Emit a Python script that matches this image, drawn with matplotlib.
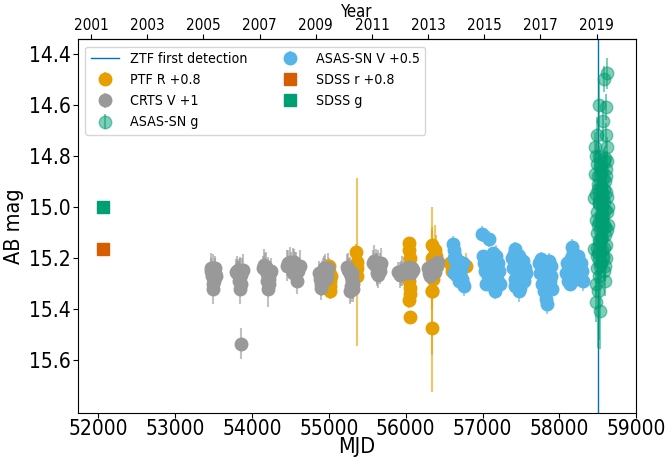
import numpy as np
import matplotlib.pyplot as plt

plt.rcParams['font.family'] = 'DejaVu Sans'
plt.rcParams['font.stretch'] = 'condensed'

# ZTF first detection
ztf_first_mjd = 58504

# SDSS photometry (single epoch)
sdss_mjd = [52065]
sdss_g = [14.999]
sdss_r = [15.165]  # r + 0.8

# CRTS V + 1
crts_mjd = [
    53462, 53470, 53478, 53485, 53490, 53496, 53502, 53508, 53515, 53522, 53530, 53488, 53500, 53512,
    53792, 53800, 53810, 53818, 53826, 53834, 53842, 53850, 53860, 53870, 53880, 53838, 53856, 53846, 53853,
    54150, 54160, 54170, 54180, 54190, 54198, 54206, 54214, 54222, 54232, 54244, 54200, 54212, 54226,
    54462, 54476, 54490, 54505, 54518, 54532, 54546, 54560, 54575, 54590, 54605, 54620, 54540, 54590,
    54872, 54884, 54896, 54908, 54920, 54932, 54944, 54956, 54968, 54980, 54994, 54900, 54930, 54960,
    55240, 55248, 55256, 55264, 55272, 55280, 55288, 55296, 55304, 55312, 55320, 55276, 55292, 55308,
    55580, 55590, 55600, 55610, 55620, 55630, 55640, 55650, 55660, 55670, 55680, 55625, 55645,
    55905, 55920, 55935, 55950, 55965, 55980, 55995, 56010, 56025, 56040, 56055, 56070, 56085, 56100,
    56292, 56304, 56316, 56328, 56340, 56352, 56364, 56376, 56388, 56400, 56412, 56420,
]
crts_mag = [
    15.25, 15.24, 15.26, 15.27, 15.245, 15.26, 15.25, 15.28, 15.26, 15.24, 15.27, 15.30, 15.32, 15.29,
    15.255, 15.25, 15.26, 15.245, 15.27, 15.26, 15.25, 15.255, 15.265, 15.25, 15.245, 15.29, 15.30, 15.32, 15.535,
    15.24, 15.225, 15.23, 15.25, 15.235, 15.26, 15.245, 15.27, 15.28, 15.26, 15.25, 15.29, 15.32, 15.30,
    15.23, 15.22, 15.215, 15.225, 15.23, 15.22, 15.215, 15.225, 15.235, 15.24, 15.25, 15.23, 15.26, 15.29,
    15.26, 15.28, 15.30, 15.27, 15.25, 15.24, 15.26, 15.245, 15.255, 15.27, 15.24, 15.315, 15.29, 15.28,
    15.235, 15.24, 15.245, 15.25, 15.26, 15.255, 15.27, 15.28, 15.29, 15.30, 15.32, 15.33, 15.31, 15.26,
    15.22, 15.21, 15.225, 15.23, 15.215, 15.24, 15.22, 15.235, 15.25, 15.23, 15.22, 15.26, 15.265,
    15.255, 15.265, 15.26, 15.25, 15.255, 15.245, 15.25, 15.26, 15.24, 15.235, 15.25, 15.26, 15.24, 15.245,
    15.24, 15.26, 15.27, 15.25, 15.235, 15.225, 15.245, 15.255, 15.24, 15.22, 15.23, 15.215,
]
crts_err = [
    0.05, 0.06, 0.04, 0.05, 0.06, 0.05, 0.04, 0.05, 0.06, 0.05, 0.04, 0.05, 0.06, 0.04,
    0.05, 0.06, 0.05, 0.04, 0.06, 0.05, 0.05, 0.06, 0.04, 0.05, 0.06, 0.05, 0.04, 0.06, 0.06,
    0.05, 0.06, 0.05, 0.04, 0.06, 0.05, 0.05, 0.04, 0.06, 0.05, 0.05, 0.06, 0.07, 0.05,
    0.06, 0.05, 0.06, 0.05, 0.04, 0.06, 0.05, 0.05, 0.06, 0.04, 0.05, 0.06, 0.05, 0.05,
    0.05, 0.04, 0.05, 0.06, 0.05, 0.05, 0.04, 0.06, 0.05, 0.05, 0.06, 0.05, 0.04, 0.05,
    0.05, 0.06, 0.04, 0.05, 0.05, 0.06, 0.05, 0.04, 0.05, 0.06, 0.05, 0.05, 0.06, 0.05,
    0.05, 0.06, 0.04, 0.05, 0.05, 0.06, 0.05, 0.04, 0.05, 0.05, 0.06, 0.05, 0.05,
    0.04, 0.05, 0.05, 0.06, 0.04, 0.05, 0.05, 0.04, 0.06, 0.05, 0.04, 0.05, 0.05, 0.04,
    0.05, 0.04, 0.05, 0.05, 0.06, 0.04, 0.05, 0.05, 0.04, 0.05, 0.05, 0.04,
]

# PTF R + 0.8
ptf_mjd = [
    55000, 55008, 55015, 55022, 55030, 55012,
    55358, 55362, 55368, 55372,
    56042, 56046, 56050, 56054, 56048, 56044, 56052, 56056, 56046, 56050,
    56340, 56344, 56348, 56352, 56346, 56342, 56356, 56380, 56400, 56345,
    56580, 56600, 56620, 56650, 56700, 56790,
]
ptf_mag = [
    15.23, 15.25, 15.29, 15.31, 15.27, 15.33,
    15.175, 15.215, 15.27, 15.24,
    15.14, 15.17, 15.20, 15.23, 15.26, 15.29, 15.315, 15.34, 15.365, 15.43,
    15.15, 15.20, 15.24, 15.28, 15.33, 15.475, 15.22, 15.17, 15.19, 15.33,
    15.22, 15.25, 15.21, 15.235, 15.22, 15.23,
]
ptf_err = [
    0.03, 0.04, 0.03, 0.04, 0.03, 0.03,
    0.03, 0.33, 0.04, 0.03,
    0.02, 0.02, 0.03, 0.03, 0.02, 0.03, 0.03, 0.02, 0.03, 0.02,
    0.06, 0.20, 0.05, 0.04, 0.03, 0.25, 0.06, 0.10, 0.08, 0.25,
    0.05, 0.04, 0.06, 0.05, 0.06, 0.05,
]

# ASAS-SN V + 0.5
asv_mjd = [
    56615, 56625, 56635, 56645, 56655, 56665, 56675, 56690, 56705, 56720, 56735, 56750, 56765, 56630, 56700, 56745,
    56990, 57080, 57005, 57020, 57035, 57050, 57065, 57080, 57095, 57110, 57125, 57140, 57155, 57170, 57185,
    57200, 57215, 57225, 57045, 57130, 57160,
    57380, 57392, 57404, 57416, 57428, 57440, 57452, 57464, 57476, 57488, 57500, 57512, 57524, 57536, 57548,
    57560, 57420, 57470,
    57740, 57752, 57764, 57776, 57788, 57800, 57812, 57824, 57836, 57848, 57860, 57872, 57884, 57896, 57908, 57850,
    58090, 58102, 58114, 58126, 58138, 58150, 58162, 58174, 58186, 58198, 58210, 58222, 58234, 58246, 58258,
    58270, 58282, 58294, 58306,
]
asv_mag = [
    15.145, 15.17, 15.20, 15.19, 15.22, 15.25, 15.21, 15.23, 15.26, 15.24, 15.28, 15.30, 15.31, 15.26, 15.29, 15.22,
    15.105, 15.125, 15.19, 15.22, 15.25, 15.20, 15.27, 15.23, 15.29, 15.21, 15.26, 15.31, 15.24, 15.19, 15.28,
    15.22, 15.25, 15.30, 15.30, 15.18, 15.33,
    15.20, 15.24, 15.185, 15.28, 15.165, 15.22, 15.30, 15.25, 15.19, 15.315, 15.23, 15.27, 15.21, 15.29, 15.24,
    15.26, 15.31, 15.33,
    15.22, 15.26, 15.205, 15.30, 15.24, 15.33, 15.28, 15.36, 15.38, 15.25, 15.21, 15.29, 15.23, 15.27, 15.32, 15.22,
    15.26, 15.22, 15.29, 15.24, 15.30, 15.20, 15.155, 15.18, 15.27, 15.23, 15.25, 15.21, 15.28, 15.19, 15.24,
    15.26, 15.22, 15.25, 15.29,
]
asv_err = [
    0.03, 0.02, 0.03, 0.04, 0.03, 0.02, 0.03, 0.03, 0.04, 0.02, 0.03, 0.03, 0.04, 0.02, 0.03, 0.03,
    0.03, 0.03, 0.02, 0.03, 0.04, 0.02, 0.03, 0.03, 0.04, 0.02, 0.03, 0.03, 0.02, 0.04, 0.03,
    0.02, 0.03, 0.04, 0.03, 0.02, 0.03,
    0.03, 0.02, 0.04, 0.03, 0.03, 0.02, 0.03, 0.04, 0.03, 0.02, 0.03, 0.03, 0.04, 0.02, 0.03,
    0.03, 0.02, 0.04,
    0.03, 0.02, 0.03, 0.04, 0.03, 0.02, 0.03, 0.03, 0.04, 0.02, 0.03, 0.03, 0.02, 0.04, 0.03, 0.03,
    0.03, 0.02, 0.03, 0.04, 0.03, 0.02, 0.03, 0.03, 0.04, 0.02, 0.03, 0.03, 0.02, 0.04, 0.03,
    0.03, 0.02, 0.03, 0.04,
]

# ASAS-SN g
asg_mjd = [
    58615, 58585, 58520, 58600, 58563, 58490, 58612, 58465, 58625, 58477, 58620, 58465, 58448, 58630, 58630, 58445,
    58590, 58500, 58525, 58480, 58470, 58510,
    58482, 58488, 58494, 58500, 58506, 58512, 58518, 58524, 58530, 58536, 58542, 58548, 58554, 58560, 58566,
    58572, 58578, 58584, 58590, 58596, 58602, 58608, 58614, 58485, 58497, 58509, 58521, 58533, 58545, 58557,
    58569, 58581, 58593, 58605, 58617, 58491, 58503, 58515, 58527, 58539, 58551, 58563, 58575, 58587, 58599,
    58611, 58480, 58490, 58502, 58514, 58526, 58538, 58550, 58562, 58574, 58586, 58598, 58610, 58620, 58495,
]
asg_mag = [
    14.477, 14.50, 14.60, 14.61, 14.665, 14.72, 14.72, 14.765, 14.765, 14.80, 14.82, 14.87, 14.965, 15.00, 15.07, 15.165,
    15.29, 15.33, 15.405, 15.37, 15.30, 15.27,
    14.95, 15.10, 15.02, 14.88, 15.18, 14.98, 15.06, 14.84, 15.14, 14.92, 15.22, 15.00, 14.86, 15.12, 14.96,
    15.04, 14.82, 15.16, 14.90, 15.08, 14.94, 15.20, 15.02, 15.24, 14.91, 15.13, 14.99, 15.23, 14.87, 15.05,
    15.19, 14.93, 15.11, 14.85, 15.09, 14.83, 15.07, 15.21, 14.97, 15.03, 15.17, 14.89, 15.25, 15.01, 14.81,
    15.15, 15.05, 15.16, 14.93, 14.80, 15.09, 15.12, 14.94, 15.20, 14.98, 15.07, 15.23, 14.88, 14.96, 15.19,
]
asg_err = [
    0.06, 0.05, 0.10, 0.05, 0.08, 0.07, 0.05, 0.06, 0.04, 0.05, 0.04, 0.05, 0.04, 0.04, 0.03, 0.04,
    0.06, 0.22, 0.15, 0.08, 0.05, 0.25,
    0.04, 0.05, 0.03, 0.04, 0.05, 0.04, 0.03, 0.05, 0.04, 0.04, 0.06, 0.03, 0.04, 0.05, 0.04,
    0.03, 0.05, 0.04, 0.04, 0.03, 0.05, 0.04, 0.03, 0.06, 0.04, 0.05, 0.03, 0.04, 0.05, 0.04,
    0.04, 0.03, 0.05, 0.04, 0.04, 0.05, 0.03, 0.04, 0.05, 0.04, 0.03, 0.05, 0.06, 0.04, 0.05,
    0.04, 0.03, 0.05, 0.04, 0.04, 0.05, 0.03, 0.04, 0.04, 0.05, 0.03, 0.06, 0.04, 0.05, 0.04,
]


def mjd_to_year(mjd):
    return 2000.0 + (np.asarray(mjd) - 51544.5) / 365.25


def year_to_mjd(year):
    return (np.asarray(year) - 2000.0) * 365.25 + 51544.5


fig, ax = plt.subplots(figsize=(6.67, 4.59), dpi=100)
fig.subplots_adjust(left=0.117, right=0.954, bottom=0.100, top=0.914)

ztf = ax.axvline(ztf_first_mjd, color='#0072B2', lw=1, label='ZTF first detection')

ptf = ax.errorbar(ptf_mjd, ptf_mag, yerr=ptf_err, fmt='o', ms=9, color='#E69F00',
                  ecolor=(0.902, 0.624, 0.0, 0.6), label='PTF R +0.8')
crts = ax.errorbar(crts_mjd, crts_mag, yerr=crts_err, fmt='o', ms=9, color='#999999',
                   ecolor=(0.6, 0.6, 0.6, 0.6), label='CRTS V +1')
asg = ax.errorbar(asg_mjd, asg_mag, yerr=asg_err, fmt='o', ms=9, color='#009E73',
                  alpha=0.5, label='ASAS-SN g')
asv = ax.errorbar(asv_mjd, asv_mag, yerr=asv_err, fmt='o', ms=9, color='#56B4E9',
                  ecolor=(0.337, 0.706, 0.914, 0.6), label='ASAS-SN V +0.5')
sr, = ax.plot(sdss_mjd, sdss_r, 's', ms=8, color='#D55E00', label='SDSS r +0.8')
sg, = ax.plot(sdss_mjd, sdss_g, 's', ms=8, color='#009E73', label='SDSS g')

ax.set_xlim(51739, 59000)
ax.set_ylim(15.806, 14.345)
ax.set_xticks(np.arange(52000, 59001, 1000))
ax.set_yticks(np.arange(14.4, 15.61, 0.2))
ax.tick_params(labelsize=15)
ax.tick_params(axis='x', pad=1)
ax.tick_params(axis='y', pad=2)
ax.set_xlabel('MJD', fontsize=15.5, labelpad=-2)
ax.set_ylabel('AB mag', fontsize=15.5, labelpad=3)

top = ax.secondary_xaxis('top', functions=(mjd_to_year, year_to_mjd))
top.set_xticks(np.arange(2001, 2020, 2))
top.tick_params(labelsize=11, pad=1)
top.set_xlabel('Year', fontsize=12, labelpad=1)

ax.legend(handles=[ztf, ptf, crts, asg, asv, sr, sg], loc='upper left', ncol=2, fontsize=10.2)

fig.savefig('out.png', dpi=100)
